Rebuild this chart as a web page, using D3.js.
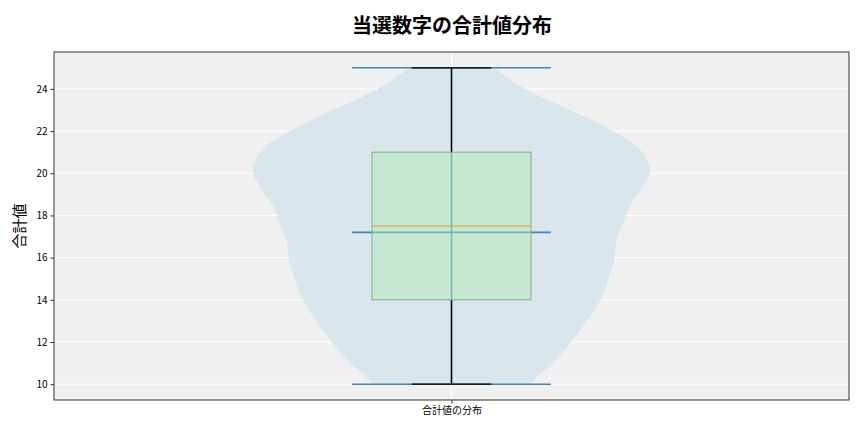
<!DOCTYPE html>
<html>
<head>
<meta charset="utf-8">
<script src="https://cdn.jsdelivr.net/npm/d3@7"></script>
<style>
  body { margin: 0; background: #fff; }
  text { font-family: "Noto Sans CJK JP", "Noto Sans", sans-serif; }
</style>
</head>
<body>
<div id="chart"></div>
<script>
// chart values
var category = "合計値の分布";
var yTicks = [10, 12, 14, 16, 18, 20, 22, 24];

// violin outline: value -> relative density (1 = widest)
var violinValues  = [10, 10.35, 11.1, 12.1, 13, 14, 15, 16, 16.8, 17.8, 18.5, 19.3, 20.1, 20.7, 21.3, 22, 22.5, 23.2, 24, 25];
var violinDensity = [0.40, 0.43, 0.52, 0.61, 0.68, 0.75, 0.79, 0.82, 0.83, 0.87, 0.90, 0.96, 1.00, 0.98, 0.93, 0.81, 0.71, 0.55, 0.37, 0.21];

// box stats
var boxMin = 10, boxQ1 = 14, boxMedian = 17.5, boxQ3 = 21, boxMax = 25;
var dataMean = 17.2;

// set the dimensions and margins of the graph
var margin = {top: 52, right: 15, bottom: 32, left: 54},
    width = 864 - margin.left - margin.right,
    height = 432 - margin.top - margin.bottom;

var root = d3.select("#chart")
  .append("svg")
    .attr("width", 864)
    .attr("height", 432);

// title
root.append("text")
  .attr("x", 452)
  .attr("y", 33)
  .attr("text-anchor", "middle")
  .style("font-size", "20px")
  .style("font-weight", "bold")
  .text("当選数字の合計値分布");

var svg = root.append("g")
  .attr("transform", "translate(" + margin.left + "," + margin.top + ")");

// scales
var x = d3.scaleLinear().domain([0.5, 1.5]).range([0, width]);
var y = d3.scaleLinear().domain([9.25, 25.75]).range([height, 0]);

// background
svg.append("rect")
  .attr("width", width)
  .attr("height", height)
  .attr("fill", "#f0f0f0");

// grid
svg.append("g")
  .selectAll("line")
  .data(yTicks)
  .enter().append("line")
    .attr("x1", 0).attr("x2", width)
    .attr("y1", function(d) { return y(d); })
    .attr("y2", function(d) { return y(d); })
    .attr("stroke", "#fff")
    .attr("stroke-width", 1);
svg.append("line")
  .attr("x1", x(1)).attr("x2", x(1))
  .attr("y1", 0).attr("y2", height)
  .attr("stroke", "#fff")
  .attr("stroke-width", 1);

// violin body
var hw = d3.scaleLinear().domain([0, 1]).range([0, 0.25]);
var violinPts = violinValues.map(function(v, i) { return {v: v, d: violinDensity[i]}; });
var area = d3.area()
  .y(function(d) { return y(d.v); })
  .x0(function(d) { return x(1 - hw(d.d)); })
  .x1(function(d) { return x(1 + hw(d.d)); })
  .curve(d3.curveCatmullRom);
svg.append("path")
  .datum(violinPts)
  .attr("d", area)
  .attr("fill", "#d9e6ec");

// violin lines: min, max, mean, vertical bar
var blue = "#3f88bd";
[boxMin, boxMax, dataMean].forEach(function(v) {
  svg.append("line")
    .attr("x1", x(0.875)).attr("x2", x(1.125))
    .attr("y1", y(v)).attr("y2", y(v))
    .attr("stroke", blue)
    .attr("stroke-width", 1.6);
});
svg.append("line")
  .attr("x1", x(1)).attr("x2", x(1))
  .attr("y1", y(boxMin)).attr("y2", y(boxMax))
  .attr("stroke", blue)
  .attr("stroke-width", 1.6);

// whiskers
svg.append("line")
  .attr("x1", x(1)).attr("x2", x(1))
  .attr("y1", y(boxQ3)).attr("y2", y(boxMax))
  .attr("stroke", "#000").attr("stroke-width", 1.3);
svg.append("line")
  .attr("x1", x(1)).attr("x2", x(1))
  .attr("y1", y(boxMin)).attr("y2", y(boxQ1))
  .attr("stroke", "#000").attr("stroke-width", 1.3);
[boxMin, boxMax].forEach(function(v) {
  svg.append("line")
    .attr("x1", x(0.95)).attr("x2", x(1.05))
    .attr("y1", y(v)).attr("y2", y(v))
    .attr("stroke", "#000").attr("stroke-width", 1.3);
});

// box
svg.append("rect")
  .attr("x", x(0.9))
  .attr("y", y(boxQ3))
  .attr("width", x(1.1) - x(0.9))
  .attr("height", y(boxQ1) - y(boxQ3))
  .attr("fill", "rgba(177,234,180,0.5)")
  .attr("stroke", "#8aa592")
  .attr("stroke-width", 1);

// median
svg.append("line")
  .attr("x1", x(0.9)).attr("x2", x(1.1))
  .attr("y1", y(boxMedian)).attr("y2", y(boxMedian))
  .attr("stroke", "#e8952a")
  .attr("stroke-width", 1.2);

// frame
svg.append("rect")
  .attr("width", width)
  .attr("height", height)
  .attr("fill", "none")
  .attr("stroke", "#333")
  .attr("stroke-width", 1);

// y axis
var yAxis = svg.append("g")
  .call(d3.axisLeft(y).tickValues(yTicks).tickSize(3.5).tickPadding(3).tickFormat(d3.format("d")));
yAxis.select(".domain").remove();
yAxis.selectAll("text").style("font-size", "10px").attr("fill", "#000");
yAxis.selectAll("line").attr("stroke", "#333");

// x axis
var xAxis = svg.append("g")
  .attr("transform", "translate(0," + height + ")")
  .call(d3.axisBottom(x).tickValues([1]).tickSize(3.5).tickPadding(3).tickFormat(function() { return category; }));
xAxis.select(".domain").remove();
xAxis.selectAll("text").style("font-size", "10px").attr("fill", "#000");
xAxis.selectAll("line").attr("stroke", "#333");

// y label
root.append("text")
  .attr("transform", "translate(25," + (margin.top + height / 2) + ") rotate(-90)")
  .attr("text-anchor", "middle")
  .style("font-size", "15px")
  .text("合計値");
</script>
</body>
</html>
